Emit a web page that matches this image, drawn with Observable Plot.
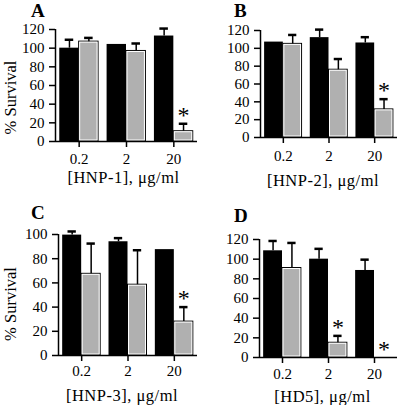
<!DOCTYPE html>
<html>
<head>
<meta charset="utf-8">
<script src="https://cdn.jsdelivr.net/npm/d3@7"></script>
<script src="https://cdn.jsdelivr.net/npm/@observablehq/plot@0.6"></script>
<style>
  body { margin: 0; background: #fff; }
  #wrap { position: relative; width: 400px; height: 405px; overflow: hidden; background: #fff;
          font-family: "Liberation Serif", "Times New Roman", serif; color: #000; }
  .panel { position: absolute; }
  .letter { position: absolute; font-weight: bold; font-size: 19px; line-height: 19px; }
  svg { overflow: visible; }
</style>
</head>
<body>
<div id="wrap"></div>
<script>
// ---- data ----
const concentrations = ["0.2", "2", "20"];
const panelLetters = ["A", "B", "C", "D"];
const xLabels = ["[HNP-1], μg/ml", "[HNP-2], μg/ml", "[HNP-3], μg/ml", "[HD5], μg/ml"];
const yLabel = "% Survival";

// black bars (first series) and gray bars (second series): mean and error bar length
const blackA = [100, 104, 113];
const blackErrA = [9, 0, 8];
const grayA = [107, 97, 11];
const grayErrA = [4, 8, 8];
const starsA = [false, false, true];

const blackB = [107, 112, 106];
const blackErrB = [0, 9, 6.5];
const grayB = [105, 76, 31.5];
const grayErrB = [10, 12, 11.5];
const starsB = [false, false, true];

const blackC = [99.5, 94, 87.5];
const blackErrC = [3, 3, 0];
const grayC = [67.5, 58.5, 28];
const grayErrC = [25, 28.5, 12];
const starsC = [false, false, true];

const blackD = [108.5, 100, 88.5];
const blackErrD = [10, 10.5, 11];
const grayD = [91, 15, 0];
const grayErrD = [25.5, 7, 0];
const starsD = [false, true, true];

const yTicks120 = [0, 20, 40, 60, 80, 100, 120];
const yTicks100 = [0, 20, 40, 60, 80, 100];

// ---- layout ----
const layouts = [
  {left: 0,   top: 0,   width: 200, height: 200, ml: 55, mt: 29, mb: 59, mr: 3, ymax: 120, ticks: yTicks120, xPad: 6, xLabDy: 36, xLabDx: -3, yLabDy: 12, showY: true,  lx: 31,  ly: 1},
  {left: 200, top: 0,   width: 200, height: 200, ml: 60, mt: 30, mb: 63, mr: 3, ymax: 120, ticks: yTicks120, xPad: 7, xLabDy: 43, xLabDx: -6, yLabDy: 0,  showY: false, lx: 234, ly: 1},
  {left: 0,   top: 200, width: 200, height: 205, ml: 58, mt: 34, mb: 50, mr: 3, ymax: 100, ticks: yTicks100, xPad: 4, xLabDy: 40, xLabDx: -6, yLabDy: 9,  showY: true,  lx: 31,  ly: 203},
  {left: 200, top: 200, width: 200, height: 205, ml: 59, mt: 39, mb: 48, mr: 3, ymax: 120, ticks: yTicks120, xPad: 5, xLabDy: 39, xLabDx: -6, yLabDy: 0,  showY: false, lx: 234, ly: 206}
];

const series = [
  [blackA, blackErrA, grayA, grayErrA, starsA],
  [blackB, blackErrB, grayB, grayErrB, starsB],
  [blackC, blackErrC, grayC, grayErrC, starsC],
  [blackD, blackErrD, grayD, grayErrD, starsD]
];

const GRAY = "#b0b0b0";
const pad = 0.09, bw = 0.41, capHalf = 0.09;

function makePanel(k) {
  const cfg = layouts[k];
  const [black, blackErr, gray, grayErr, stars] = series[k];
  const rows = [];
  concentrations.forEach((c, i) => {
    rows.push({i, s: 0, value: black[i], err: blackErr[i], star: false});
    rows.push({i, s: 1, value: gray[i], err: grayErr[i], star: stars[i]});
  });
  const left = d => d.i + pad + bw * d.s;
  const right = d => left(d) + bw;
  const mid = d => left(d) + bw / 2;
  const errRows = rows.filter(d => d.err > 0);

  const marks = [
    Plot.rect(rows.filter(d => d.s === 0), {x1: left, x2: right, y1: () => 0, y2: "value", fill: "black"}),
    Plot.rect(rows.filter(d => d.s === 1 && d.value > 0), {x1: left, x2: right, y1: () => 0, y2: "value", fill: GRAY, stroke: "black", strokeWidth: 1}),
    Plot.rect(rows.filter(d => d.s === 1 && d.value > 3), {x1: left, x2: right, y1: () => 0, y2: "value", fill: "none", stroke: "white", strokeWidth: 1, inset: 1}),
    Plot.ruleX(errRows, {x: mid, y1: "value", y2: d => d.value + d.err, stroke: "black", strokeWidth: 1.5}),
    Plot.ruleY(errRows, {y: d => d.value + d.err, x1: d => mid(d) - capHalf, x2: d => mid(d) + capHalf, stroke: "black", strokeWidth: 2.5}),
    Plot.text(rows.filter(d => d.star), {x: mid, y: d => d.value + d.err, text: () => "*", fontSize: 24, dy: -8.5, fill: "black"}),
    Plot.ruleX([0], {stroke: "black", strokeWidth: 1.5}),
    Plot.ruleY([0], {stroke: "black", strokeWidth: 1.5}),
    Plot.axisY({ticks: cfg.ticks, tickSize: 6, tickPadding: 5, label: null, fontSize: 15, strokeWidth: 1.5, tickFormat: d => d}),
    Plot.axisX({ticks: [0.5, 1.5, 2.5], tickFormat: t => concentrations[Math.floor(t)], tickSize: 6, tickPadding: cfg.xPad, label: null, fontSize: 15, strokeWidth: 1.5}),
    Plot.text([xLabels[k]], {frameAnchor: "bottom", text: d => d, dy: cfg.xLabDy, dx: cfg.xLabDx, fontSize: 16.5, textAnchor: "middle", lineAnchor: "middle", fill: "black"})
  ];
  if (cfg.showY) {
    marks.push(Plot.text([yLabel], {frameAnchor: "left", text: d => d, rotate: -90, dx: 10 - cfg.ml, dy: cfg.yLabDy, fontSize: 16.5, textAnchor: "middle", lineAnchor: "middle", fill: "black"}));
  }

  const chart = Plot.plot({
    width: cfg.width,
    height: cfg.height,
    marginLeft: cfg.ml,
    marginTop: cfg.mt,
    marginBottom: cfg.mb,
    marginRight: cfg.mr,
    x: {type: "linear", domain: [0, 3]},
    y: {domain: [0, cfg.ymax]},
    style: {fontFamily: "'Liberation Serif', 'Times New Roman', serif", fontSize: "15px", color: "black", background: "transparent", overflow: "visible"},
    marks
  });

  // slightly looser tracking on the x-axis title, as in the scanned original
  chart.querySelectorAll("text").forEach(t => {
    if (t.textContent === xLabels[k]) t.style.letterSpacing = "0.5px";
  });

  const div = document.createElement("div");
  div.className = "panel";
  div.style.left = cfg.left + "px";
  div.style.top = cfg.top + "px";
  div.appendChild(chart);
  document.getElementById("wrap").appendChild(div);

  const letter = document.createElement("div");
  letter.className = "letter";
  letter.textContent = panelLetters[k];
  letter.style.left = cfg.lx + "px";
  letter.style.top = cfg.ly + "px";
  document.getElementById("wrap").appendChild(letter);
}

[0, 1, 2, 3].forEach(makePanel);
</script>
</body>
</html>
